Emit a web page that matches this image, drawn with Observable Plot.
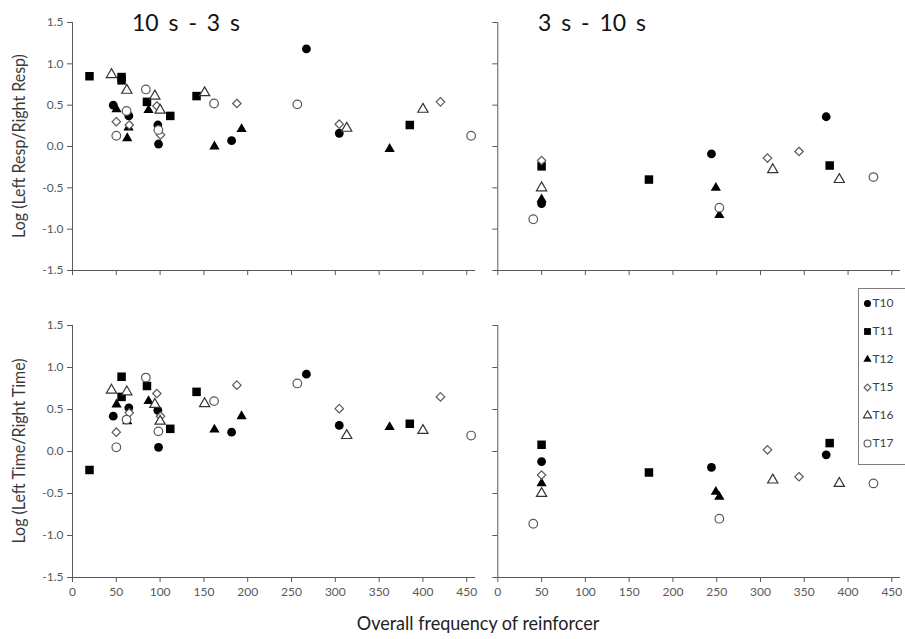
<!DOCTYPE html>
<html>
<head>
<meta charset="utf-8">
<script src="https://cdn.jsdelivr.net/npm/d3@7"></script>
<script src="https://cdn.jsdelivr.net/npm/@observablehq/plot@0.6"></script>
<style>
  html, body { margin: 0; padding: 0; background: #fff; }
  #root { position: relative; width: 905px; height: 639px; overflow: hidden; background: #fff; font-family: Lato, "Open Sans", sans-serif; }
  .ttl { font-size: 23px; color: #111; transform: translate(-50%, -50%); white-space: nowrap; word-spacing: 4px; }
  .ylab { font-size: 16.5px; color: #3a3a3a; transform: translate(-50%, -50%) rotate(-90deg) scaleX(0.97); white-space: nowrap; }
  .xlab { font-size: 20px; color: #222; transform: translate(-50%, -50%) scaleX(0.9); white-space: nowrap; }
  #legend { width: 60px; height: 177px; border: 1px solid #7f7f7f; background: #fff; box-sizing: border-box; }
</style>
</head>
<body>
<div id="root"></div>
<script>
// ---------- data ----------
const subjects = ["T10", "T11", "T12", "T15", "T16", "T17"];
const xTicks = [0, 50, 100, 150, 200, 250, 300, 350, 400, 450];
const yTicks = [-1.5, -1.0, -0.5, 0.0, 0.5, 1.0, 1.5];
const panelTitles = ["10 s - 3 s", "3 s - 10 s"];
const yTitles = ["Log (Left Resp/Right Resp)", "Log (Left Time/Right Time)"];
const xTitle = "Overall frequency of reinforcer";

// Condition 10 s - 3 s: overall reinforcer frequency
const freq10to3 = {
  T10: [46.5, 64.3, 97.4, 98.2, 181.6, 267, 304.5],
  T11: [19.4, 56, 56, 85, 111.6, 141.6, 385],
  T12: [50.3, 62.5, 64, 86.8, 162, 193, 362],
  T15: [50, 64.8, 96.3, 100.5, 187.6, 304.5, 420],
  T16: [44.5, 62, 94, 100, 150.8, 313, 400],
  T17: [50, 61.7, 83.7, 98, 161.6, 256.6, 455]
};
// log response ratio, 10 s - 3 s
const resp10to3 = {
  T10: [0.50, 0.37, 0.26, 0.03, 0.07, 1.18, 0.16],
  T11: [0.85, 0.84, 0.80, 0.54, 0.37, 0.61, 0.26],
  T12: [0.45, 0.10, 0.23, 0.44, 0.00, 0.21, -0.03],
  T15: [0.30, 0.26, 0.49, 0.14, 0.52, 0.27, 0.54],
  T16: [0.87, 0.68, 0.61, 0.44, 0.65, 0.22, 0.45],
  T17: [0.13, 0.43, 0.69, 0.20, 0.52, 0.51, 0.13]
};
// log time ratio, 10 s - 3 s
const time10to3 = {
  T10: [0.42, 0.52, 0.49, 0.05, 0.23, 0.92, 0.31],
  T11: [-0.22, 0.89, 0.65, 0.78, 0.27, 0.71, 0.33],
  T12: [0.56, 0.36, null, 0.60, 0.26, 0.42, 0.29],
  T15: [0.23, 0.46, 0.69, 0.42, 0.79, 0.51, 0.65],
  T16: [0.73, 0.71, 0.56, 0.36, 0.57, 0.19, 0.25],
  T17: [0.05, 0.38, 0.88, 0.24, 0.60, 0.81, 0.19]
};

// Condition 3 s - 10 s
const freq3to10 = {
  T10: [50, 244, 375],
  T11: [50, 172.6, 379],
  T12: [50, 249, 253],
  T15: [50, 308, 344],
  T16: [50, 314, 390],
  T17: [40.5, 253, 429]
};
const resp3to10 = {
  T10: [-0.69, -0.09, 0.36],
  T11: [-0.24, -0.40, -0.23],
  T12: [-0.64, -0.50, -0.83],
  T15: [-0.17, -0.14, -0.06],
  T16: [-0.50, -0.28, -0.40],
  T17: [-0.88, -0.74, -0.37]
};
const time3to10 = {
  T10: [-0.12, -0.19, -0.04],
  T11: [0.08, -0.25, 0.10],
  T12: [-0.38, -0.48, -0.54],
  T15: [-0.28, 0.02, -0.30],
  T16: [-0.50, -0.34, -0.38],
  T17: [-0.86, -0.80, -0.38]
};

// ---------- styles ----------
const symbolOf = ["circle", "square", "triangle", "diamond2", "triangle", "circle"];
const filledOf = [true, true, true, false, false, false];
const radiusOf = [4.4, 4.8, 3.8, 3.8, 3.8, 4.3];
const strokeOf = ["none", "none", "none", "#595959", "#333333", "#595959"];
const axisColor = "#595959";

const root = document.getElementById("root");

function place(el, left, top) {
  el.style.position = "absolute";
  el.style.left = left + "px";
  el.style.top = top + "px";
  root.appendChild(el);
}

function panel(freq, vals, opts) {
  const marks = [
    Plot.ruleX([0], {stroke: axisColor, strokeWidth: 1}),
    Plot.ruleY([-1.5], {stroke: axisColor, strokeWidth: 1}),
    Plot.axisY(yTicks, {
      tickSize: 5, tickPadding: 4, fontSize: 12,
      tickFormat: opts.yLabels ? (d => d.toFixed(1)) : (() => ""),
      label: null
    }),
    Plot.axisX(xTicks, {
      tickSize: 5, tickPadding: 5, fontSize: 12,
      tickFormat: opts.xLabels ? (d => String(d)) : (() => ""),
      label: null
    })
  ];
  subjects.forEach((s, i) => {
    const data = freq[s].map((x, j) => ({x, y: vals[s][j]})).filter(d => d.y != null);
    marks.push(Plot.dot(data, {
      x: "x", y: "y",
      symbol: symbolOf[i],
      r: radiusOf[i],
      fill: filledOf[i] ? "#000" : "#fff",
      stroke: strokeOf[i],
      strokeWidth: filledOf[i] ? 0 : 1.2
    }));
  });
  return Plot.plot({
    width: opts.width, height: opts.height,
    marginLeft: opts.ml, marginRight: opts.mr,
    marginTop: opts.mt, marginBottom: opts.mb,
    style: {color: axisColor, fontFamily: "Lato, 'Open Sans', sans-serif", background: "transparent", overflow: "visible"},
    x: {domain: [0, 460]},
    y: {domain: [-1.5, 1.5]},
    marks
  });
}

// top-left
place(panel(freq10to3, resp10to3, {xLabels: false, yLabels: true, width: 480, height: 290, ml: 72, mr: 5, mt: 22, mb: 20}), 0, 0);
// bottom-left
place(panel(freq10to3, time10to3, {xLabels: true, yLabels: true, width: 480, height: 305, ml: 72, mr: 5, mt: 25, mb: 28}), 0, 300);
// top-right
place(panel(freq3to10, resp3to10, {xLabels: false, yLabels: false, width: 425, height: 290, ml: 17.3, mr: 4.9, mt: 22, mb: 20}), 480, 0);
// bottom-right
place(panel(freq3to10, time3to10, {xLabels: true, yLabels: false, width: 425, height: 305, ml: 17.3, mr: 4.9, mt: 25, mb: 28}), 480, 300);

// titles
function label(text, cls, left, top) {
  const d = document.createElement("div");
  d.className = cls;
  d.textContent = text;
  place(d, left, top);
}
label(panelTitles[0], "ttl", 186, 22);
label(panelTitles[1], "ttl", 592, 22);
label(yTitles[0], "ylab", 19, 146);
label(yTitles[1], "ylab", 19, 451);
label(xTitle, "xlab", 478, 622);

// legend
const legendBox = document.createElement("div");
legendBox.id = "legend";
place(legendBox, 858, 288);
const legendMarks = [];
subjects.forEach((s, i) => {
  legendMarks.push(Plot.dot([s], {
    x: () => 0, y: d => d,
    symbol: symbolOf[i],
    r: radiusOf[i] * 0.8,
    fill: filledOf[i] ? "#000" : "#fff",
    stroke: strokeOf[i],
    strokeWidth: filledOf[i] ? 0 : 1.1
  }));
});
legendMarks.push(Plot.text(subjects, {x: () => 1, y: d => d, text: d => d, textAnchor: "start", fontSize: 12, fill: "#3a3f4a"}));
legendBox.appendChild(Plot.plot({
  width: 58, height: 175,
  margin: 0,
  style: {fontFamily: "Lato, 'Open Sans', sans-serif", background: "transparent"},
  x: {domain: [0, 1], range: [8, 13], axis: null},
  y: {type: "point", domain: subjects, range: [13, 155], padding: 0, axis: null},
  marks: legendMarks
}));
</script>
</body>
</html>
